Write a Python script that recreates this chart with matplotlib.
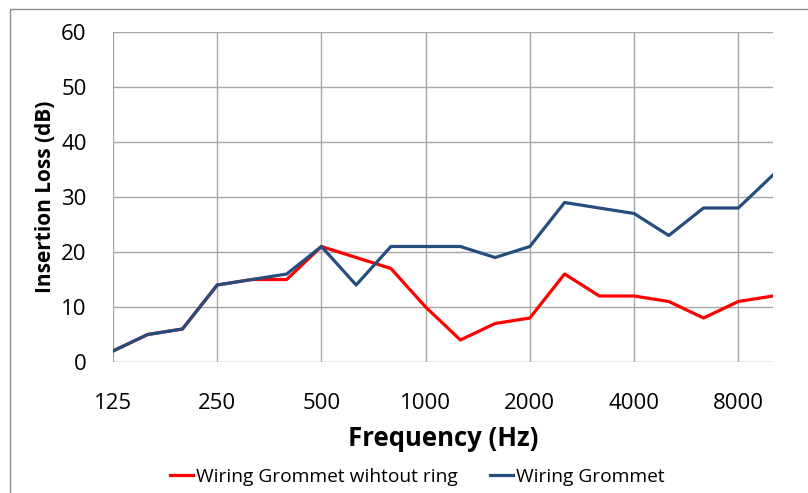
import matplotlib
matplotlib.use("Agg")
import matplotlib.pyplot as plt
from matplotlib.patches import Rectangle

bands = ["125", "160", "200", "250", "315", "400", "500", "630", "800", "1000",
         "1250", "1600", "2000", "2500", "3150", "4000", "5000", "6300", "8000", "10000"]
without_ring = [2, 5, 6, 14, 15, 15, 21, 19, 17, 10, 4, 7, 8, 16, 12, 12, 11, 8, 11, 12]
grommet = [2, 5, 6, 14, 15, 16, 21, 14, 21, 21, 21, 19, 21, 29, 28, 27, 23, 28, 28, 34]
tick_labels = ["125", "250", "500", "1000", "2000", "4000", "8000"]

plt.rcParams['font.family'] = ['Open Sans', 'DejaVu Sans']

fig = plt.figure(figsize=(8.08, 4.93), dpi=100)
ax = fig.add_axes([113/808, 1-362/493, (773-113)/808, (362-32)/493])

x = list(range(len(bands)))
ax.plot(x, without_ring, color="#FF0000", lw=2.3, label="Wiring Grommet wihtout ring", zorder=3)
ax.plot(x, grommet, color="#254E7E", lw=2.3, label="Wiring Grommet", zorder=4)

ax.set_xlim(0, len(bands) - 1)
ax.set_ylim(0, 60)
tick_pos = [bands.index(t) for t in tick_labels]
ax.set_xticks(tick_pos)
ax.set_xticklabels(tick_labels, fontsize=16)
ax.set_yticks(range(0, 61, 10))
ax.tick_params(axis='y', labelsize=16, length=0, pad=19)
ax.tick_params(axis='x', length=0, pad=22)
for s in ax.spines.values():
    s.set_visible(False)
ax.grid(True, color="#A6A6A6", lw=1.0)
ax.set_axisbelow(True)

ax.set_xlabel("Frequency (Hz)", fontsize=18.5, fontweight="bold", labelpad=8)
ax.set_ylabel("Insertion Loss (dB)", fontsize=15, fontweight="bold", labelpad=4)

fig.legend(loc="center", bbox_to_anchor=(417/808, 1-477/493), ncol=2, frameon=False,
           fontsize=13.8, handlelength=1.2, handletextpad=0.15, columnspacing=1.7)

fig.patches.append(Rectangle((10/808, -0.1), 1.2, 1 - 9/493 + 0.1, transform=fig.transFigure,
                             fill=False, edgecolor="#8C8C8C", lw=1.0))

fig.savefig("out.png", dpi=100)
